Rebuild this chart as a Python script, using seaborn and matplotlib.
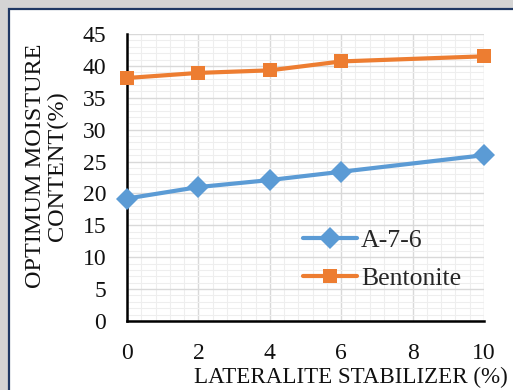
import matplotlib
matplotlib.use("Agg")
import matplotlib.pyplot as plt
import seaborn as sns
import pandas as pd
from matplotlib.ticker import MultipleLocator
from matplotlib.patches import Rectangle

stabilizer = [0, 2, 4, 6, 10]
a76 = [19.2, 21.0, 22.1, 23.4, 26.0]
bentonite = [38.1, 38.9, 39.3, 40.7, 41.5]
series_names = ["A-7-6", "Bentonite"]
x_ticks = [0, 2, 4, 6, 8, 10]
y_ticks = [0, 5, 10, 15, 20, 25, 30, 35, 40, 45]

df = pd.DataFrame({
    "x": stabilizer * 2,
    "y": a76 + bentonite,
    "series": [series_names[0]] * len(stabilizer) + [series_names[1]] * len(stabilizer),
})

sns.set_theme(style="white")
plt.rcParams['font.family'] = ['Liberation Serif', 'DejaVu Serif']

W, H = 513, 390
fig = plt.figure(figsize=(W / 100, H / 100), dpi=100)
fig.patch.set_facecolor("white")

# frame with shadow
fig.patches.append(Rectangle((0, 0), 1, 1, transform=fig.transFigure,
                             facecolor="#d4d4d4", edgecolor="none", zorder=-3))
fig.patches.append(Rectangle((9 / W, -0.1), 1.2, 1 - 9 / H + 0.1, transform=fig.transFigure,
                             facecolor="white", edgecolor="#1f3864", linewidth=1.6, zorder=-2))

ax = fig.add_axes([127 / W, 1 - 321 / H, (484 - 127) / W, (321 - 34) / H])
palette = {"A-7-6": "#5b9bd5", "Bentonite": "#ed7d31"}
markers = {"A-7-6": "D", "Bentonite": "s"}
sns.lineplot(data=df, x="x", y="y", hue="series", style="series", markers=markers,
             dashes=False, palette=palette, linewidth=3.0, markersize=10.5,
             markeredgewidth=0, ax=ax, zorder=5, clip_on=False)
for ln in ax.lines:
    if ln.get_marker() == "D":
        ln.set_markersize(11.5)

ax.set_xlim(0, 10)
ax.set_ylim(0, 45)
ax.set_xticks(x_ticks)
ax.set_yticks(y_ticks)
ax.xaxis.set_minor_locator(MultipleLocator(0.4))
ax.yaxis.set_minor_locator(MultipleLocator(1))
ax.grid(which="major", color="#d9d9d9", linewidth=1.0)
ax.grid(which="minor", color="#eeeeee", linewidth=0.8)
ax.set_axisbelow(True)
ax.tick_params(which="both", length=0)
ax.tick_params(axis="x", pad=16, labelsize=17, colors="#111111")
ax.tick_params(axis="y", pad=15, labelsize=17, colors="#111111")

for s in ["top", "right"]:
    ax.spines[s].set_visible(False)
for s in ["left", "bottom"]:
    ax.spines[s].set_color("black")
    ax.spines[s].set_linewidth(1.8)

ax.set_xlabel("")
ax.set_ylabel("")
fig.text(351 / W, 1 - 377 / H, "LATERALITE STABILIZER (%)", fontsize=16.6,
         ha="center", va="center", color="#111111")
fig.text(46.5 / W, 1 - 166 / H, "OPTIMUM MOISTURE\nCONTENT(%)", fontsize=17.5,
         ha="center", va="center", rotation=90, color="#111111", linespacing=1.05,
         multialignment="center")

leg = ax.legend(loc="upper left", bbox_to_anchor=(0.493, 0.322), frameon=False,
                fontsize=18.5, handlelength=2.1, handletextpad=0.15, labelspacing=0.62,
                borderpad=0, borderaxespad=0)
for h in leg.legend_handles:
    h.set_markeredgewidth(0)

fig.savefig("out.png", dpi=100)
